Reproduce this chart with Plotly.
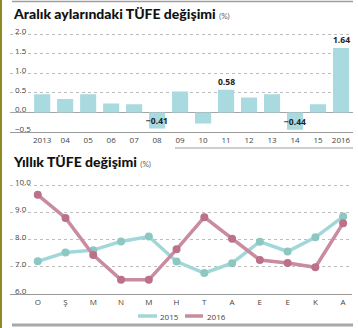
import plotly.graph_objects as go

# December month-on-month CPI change (%), 2013-2016
bar_labels = ["2013", "04", "05", "06", "07", "08", "09", "10", "11", "12", "13", "14", "15", "2016"]
bar_values = [0.46, 0.34, 0.46, 0.23, 0.21, -0.41, 0.53, -0.28, 0.58, 0.38, 0.46, -0.44, 0.21, 1.64]
bar_annotated = [False, False, False, False, False, True, False, False, True, False, False, True, False, True]
bar_ticks = [-0.5, 0.0, 0.5, 1.0, 1.5, 2.0]

# Annual CPI change (%) by month
months = ["O", "Ş", "M", "N", "M", "H", "T", "A", "E", "E", "K", "A"]
cpi_2015 = [7.20, 7.52, 7.61, 7.93, 8.11, 7.19, 6.77, 7.13, 7.92, 7.56, 8.08, 8.84]
cpi_2016 = [9.64, 8.79, 7.43, 6.52, 6.52, 7.64, 8.82, 8.03, 7.25, 7.14, 6.98, 8.60]
line_ticks = [6.0, 7.0, 8.0, 9.0, 10.0]

W, H = 358, 328
BAR_COLOR = "#a8dadf"
TEAL = "#a2d7da"
TEAL_MK = "#8cc8c2"
PINK = "#c98b9e"
PINK_MK = "#bb7289"
GRID = "#bdbdbd"
AXIS = "#9a9a9a"
TICK_FONT = dict(family="Open Sans, Liberation Sans, sans-serif", size=8, color="#444")


def px(x):
    return x / W


def py(y):
    return 1 - y / H


fig = go.Figure()

fig.add_trace(go.Bar(
    x=list(range(len(bar_values))), y=bar_values,
    marker=dict(color=BAR_COLOR, line=dict(width=0)),
    width=0.7, xaxis="x", yaxis="y", showlegend=False, hoverinfo="skip",
))

x_idx = list(range(len(months)))
fig.add_trace(go.Scatter(
    x=x_idx, y=cpi_2015, mode="lines+markers", name="2015",
    line=dict(color=TEAL, width=3.5), marker=dict(color=TEAL_MK, size=8),
    xaxis="x2", yaxis="y2", showlegend=False,
))
fig.add_trace(go.Scatter(
    x=x_idx, y=cpi_2016, mode="lines+markers", name="2016",
    line=dict(color=PINK, width=3.5), marker=dict(color=PINK_MK, size=8),
    xaxis="x2", yaxis="y2", showlegend=False,
))

annotations = []
for i, (v, show) in enumerate(zip(bar_values, bar_annotated)):
    if not show:
        continue
    text = f"{v:.2f}".replace("-", "−")
    if v >= 0:
        annotations.append(dict(x=i, y=v, xref="x", yref="y", text=f"<b>{text}</b>",
                                showarrow=False, yanchor="bottom", yshift=1,
                                font=dict(family="Open Sans, sans-serif", size=8.5, color="#222")))
    else:
        annotations.append(dict(x=i, y=v / 2, xref="x", yref="y", text=f"<b>{text}</b>",
                                showarrow=False, yanchor="middle",
                                font=dict(family="Open Sans, sans-serif", size=8.5, color="#222")))

# y tick labels sit just above their gridlines at the left edge of each panel
for t in bar_ticks:
    annotations.append(dict(x=px(13), y=t, xref="paper", yref="y", xanchor="left",
                            yanchor="bottom", yshift=-4, text=f"{t:.1f}".replace("-", "−"),
                            showarrow=False, font=TICK_FONT))
for t in line_ticks:
    annotations.append(dict(x=px(13), y=t, xref="paper", yref="y2", xanchor="left",
                            yanchor="bottom", yshift=-4, text=f"{t:.1f}",
                            showarrow=False, font=TICK_FONT))

TITLE_FONT = dict(family="Lato, Roboto, sans-serif", size=14, color="#111", weight=900)
annotations.append(dict(
    x=px(11), y=py(13), xref="paper", yref="paper", xanchor="left", yanchor="middle",
    text="Aralık aylarındaki TÜFE değişimi <span style='font-size:8px;color:#666;font-weight:400'>(%)</span>",
    showarrow=False, font=TITLE_FONT,
))
annotations.append(dict(
    x=px(11), y=py(161), xref="paper", yref="paper", xanchor="left", yanchor="middle",
    text="Yıllık TÜFE değişimi <span style='font-size:8px;color:#666;font-weight:400'>(%)</span>",
    showarrow=False, font=TITLE_FONT,
))

# legend entries
LEG_FONT = dict(family="Open Sans, sans-serif", size=8, color="#444")
annotations.append(dict(x=px(158), y=py(316), xref="paper", yref="paper", xanchor="left",
                        yanchor="middle", text="2015", showarrow=False, font=LEG_FONT))
annotations.append(dict(x=px(205), y=py(316), xref="paper", yref="paper", xanchor="left",
                        yanchor="middle", text="2016", showarrow=False, font=LEG_FONT))

shapes = [
    # left accent bar
    dict(type="rect", xref="paper", yref="paper", x0=0, x1=px(2), y0=0, y1=1,
         fillcolor="#8d8a24", line=dict(width=0), layer="above"),
    # top rule
    dict(type="line", xref="paper", yref="paper", x0=px(12), x1=px(353), y0=py(1.5), y1=py(1.5),
         line=dict(color="#9e9e9e", width=1.5)),
    # divider under the bar chart
    dict(type="line", xref="paper", yref="paper", x0=px(175), x1=px(353), y0=py(148), y1=py(148),
         line=dict(color="#9e9e9e", width=1)),
    # bottom rule
    dict(type="line", xref="paper", yref="paper", x0=px(12), x1=px(353), y0=py(325), y1=py(325),
         line=dict(color="#a8a8a8", width=3)),
    # legend swatches
    dict(type="line", xref="paper", yref="paper", x0=px(138), x1=px(157), y0=py(316), y1=py(316),
         line=dict(color=TEAL, width=3.5)),
    dict(type="line", xref="paper", yref="paper", x0=px(185), x1=px(203), y0=py(316), y1=py(316),
         line=dict(color=PINK, width=3.5)),
]

# bar panel: -0.5 at y=132 px, 2.0 at y=34 px
bar_scale = (132 - 34) / 2.5
bar_top = 2.1
bar_top_px = 132 - (bar_top + 0.5) * bar_scale
# line panel: 6.0 at y=294 px, 10.0 at y=185 px
line_scale = (294 - 185) / 4
line_top = 10.15
line_top_px = 294 - (line_top - 6) * line_scale

fig.update_layout(
    width=W, height=H,
    margin=dict(l=0, r=0, t=0, b=0),
    paper_bgcolor="white", plot_bgcolor="white",
    bargap=0.3,
    annotations=annotations,
    shapes=shapes,
    xaxis=dict(
        domain=[px(10), px(352.5)], anchor="y", range=[-1.4, 13.5],
        tickvals=list(range(len(bar_labels))), ticktext=bar_labels,
        showgrid=False, zeroline=False, showline=True, linecolor=AXIS, linewidth=1,
        ticks="", tickfont=TICK_FONT, fixedrange=True,
    ),
    yaxis=dict(
        domain=[py(132), py(bar_top_px)], anchor="x", range=[-0.5, bar_top],
        tickvals=bar_ticks, showticklabels=False,
        showgrid=True, gridcolor=GRID, griddash="dot", gridwidth=1,
        zeroline=True, zerolinecolor="#a5a5a5", zerolinewidth=1,
        showline=False, ticks="", fixedrange=True,
    ),
    xaxis2=dict(
        domain=[px(10), px(352)], anchor="y2", range=[-1.0, 11.32],
        tickvals=x_idx, ticktext=months,
        showgrid=False, zeroline=False, showline=True, linecolor=AXIS, linewidth=1,
        ticks="", tickfont=TICK_FONT, fixedrange=True,
    ),
    yaxis2=dict(
        domain=[py(294), py(line_top_px)], anchor="x2", range=[6, line_top],
        tickvals=line_ticks, showticklabels=False,
        showgrid=True, gridcolor=GRID, griddash="dot", gridwidth=1,
        zeroline=False, showline=False, ticks="", fixedrange=True,
    ),
)

fig.write_html("out.html", config={"displayModeBar": False})
